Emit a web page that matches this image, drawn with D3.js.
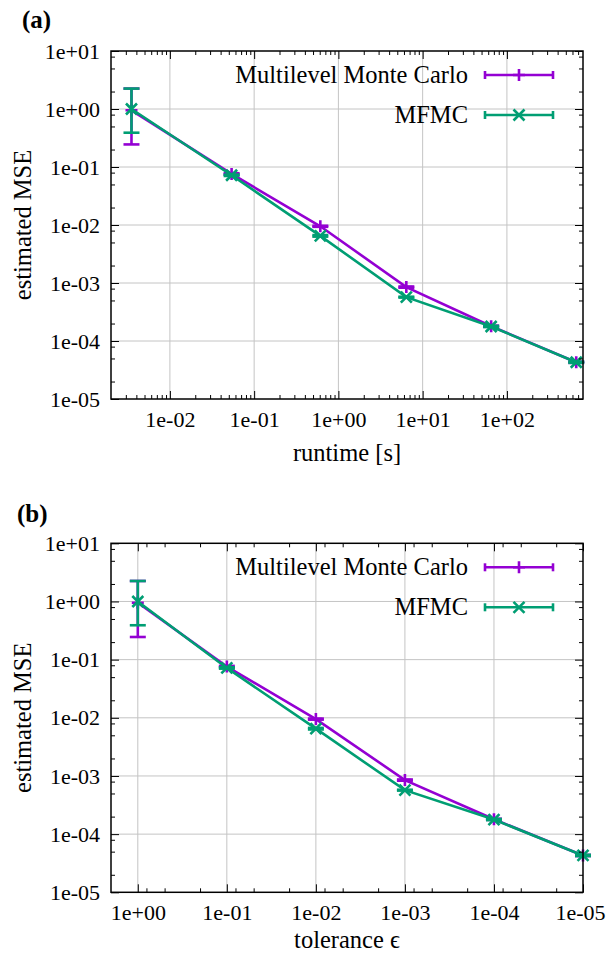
<!DOCTYPE html>
<html>
<head>
<meta charset="utf-8">
<script src="https://cdn.jsdelivr.net/npm/d3@7"></script>
<style>
  body { margin: 0; background: #fff; }
  svg { display: block; }
  svg text { font-family: "Liberation Serif", "Times New Roman", serif !important; fill: #000; }
</style>
</head>
<body>
<svg id="chart" width="608" height="962"></svg>
<script>
// values
const runtime = [0.0035, 0.054, 0.61, 6.4, 65, 665]
const tolerance = [1, 1e-1, 1e-2, 1e-3, 1e-4, 1e-5]

const mlmcMse = [0.95, 0.076, 0.0095, 0.00085, 0.00018, 4.3e-5]
const mlmcLo = [0.245, 0.074, 0.0093, 0.00083, 0.000176, 4.2e-5]
const mlmcHi = [2.25, 0.078, 0.0097, 0.00087, 0.000184, 4.4e-5]

const mfmcMse = [1.0, 0.072, 0.0065, 0.00057, 0.000178, 4.3e-5]
const mfmcLo = [0.39, 0.070, 0.0063, 0.00056, 0.000174, 4.2e-5]
const mfmcHi = [2.25, 0.074, 0.0067, 0.00058, 0.000182, 4.4e-5]

const yTicks = [1e1, 1e0, 1e-1, 1e-2, 1e-3, 1e-4, 1e-5]
const yTickLabels = ["1e+01", "1e+00", "1e-01", "1e-02", "1e-03", "1e-04", "1e-05"]
const xTicksA = [1e-2, 1e-1, 1e0, 1e1, 1e2]
const xTickLabelsA = ["1e-02", "1e-01", "1e+00", "1e+01", "1e+02"]
const xTicksB = [1e0, 1e-1, 1e-2, 1e-3, 1e-4, 1e-5]
const xTickLabelsB = ["1e+00", "1e-01", "1e-02", "1e-03", "1e-04", "1e-05"]

// minor tick multipliers per decade
const minorA = [2, 3, 4, 5, 6, 7, 8, 9]
const minorB = [2, 5, 8]

const seriesNames = ["Multilevel Monte Carlo", "MFMC"]
const colors = ["#9400d3", "#009e73"]

const svg = d3.select("#chart")
const left = 111, right = 583

function minorValues(domain, mult) {
    const lo = Math.min(domain[0], domain[1]), hi = Math.max(domain[0], domain[1])
    const out = []
    for (let e = -7; e <= 4; e++) {
        mult.forEach(m => {
            const v = m * Math.pow(10, e)
            if (v > lo * 1.0001 && v < hi * 0.9999) out.push(v)
        })
    }
    return out
}

function drawPanel(opt) {
    const top = opt.top, bottom = opt.bottom
    const x = d3.scaleLog().domain(opt.xDomain).range([left, right])
    const y = d3.scaleLog().domain([1e-5, 10]).range([bottom, top])
    const g = svg.append("g")

    // grid
    g.append("g").selectAll("line")
        .data(opt.xTicks.filter(v => x(v) > left + 1 && x(v) < right - 1))
        .enter().append("line")
        .attr("x1", d => x(d)).attr("x2", d => x(d))
        .attr("y1", top).attr("y2", bottom)
        .attr("stroke", "#c4c4c4").attr("stroke-width", 1)
    g.append("g").selectAll("line")
        .data(yTicks.filter(v => y(v) > top + 1 && y(v) < bottom - 1))
        .enter().append("line")
        .attr("x1", left).attr("x2", right)
        .attr("y1", d => y(d)).attr("y2", d => y(d))
        .attr("stroke", "#c4c4c4").attr("stroke-width", 1)

    // axes, ticks inward and mirrored
    const xMinor = minorValues(opt.xDomain, opt.minor)
    const yMinor = minorValues([1e-5, 10], minorB)

    const axes = [
        [d3.axisBottom(x).tickValues(opt.xTicks).tickSize(-8).tickPadding(12)
            .tickFormat((d, i) => opt.xLabels[i]), `translate(0,${bottom})`, "xlab"],
        [d3.axisBottom(x).tickValues(xMinor).tickSize(-4).tickFormat(""), `translate(0,${bottom})`],
        [d3.axisTop(x).tickValues(opt.xTicks).tickSize(-8).tickFormat(""), `translate(0,${top})`],
        [d3.axisTop(x).tickValues(xMinor).tickSize(-4).tickFormat(""), `translate(0,${top})`],
        [d3.axisLeft(y).tickValues(yTicks).tickSize(-8).tickPadding(11)
            .tickFormat((d, i) => yTickLabels[i]), `translate(${left},0)`],
        [d3.axisLeft(y).tickValues(yMinor).tickSize(-4).tickFormat(""), `translate(${left},0)`],
        [d3.axisRight(y).tickValues(yTicks).tickSize(-8).tickFormat(""), `translate(${right},0)`],
        [d3.axisRight(y).tickValues(yMinor).tickSize(-4).tickFormat(""), `translate(${right},0)`]
    ]

    // data: purple first, green on top
    const series = [
        {mse: mlmcMse, lo: mlmcLo, hi: mlmcHi, marker: "plus"},
        {mse: mfmcMse, lo: mfmcLo, hi: mfmcHi, marker: "cross"}
    ]
    const line = d3.line().x(d => x(d[0])).y(d => y(d[1]))
    const plus = "M-6,0H6M0,-6V6"
    const cross = "M-5.5,-5.5L5.5,5.5M-5.5,5.5L5.5,-5.5"

    series.forEach((s, k) => {
        const pts = opt.xs.map((v, i) => [v, s.mse[i], s.lo[i], s.hi[i]])
        const sg = g.append("g").attr("stroke", colors[k]).attr("fill", "none")
            .attr("stroke-width", 2.6)
        sg.append("path").datum(pts).attr("d", line)
        // error bars
        const eb = sg.selectAll("g").data(pts).enter().append("g")
        eb.append("line")
            .attr("x1", d => x(d[0])).attr("x2", d => x(d[0]))
            .attr("y1", d => y(d[2])).attr("y2", d => y(d[3]))
        eb.append("line")
            .attr("x1", d => x(d[0]) - 8).attr("x2", d => x(d[0]) + 8)
            .attr("y1", d => y(d[2])).attr("y2", d => y(d[2]))
        eb.append("line")
            .attr("x1", d => x(d[0]) - 8).attr("x2", d => x(d[0]) + 8)
            .attr("y1", d => y(d[3])).attr("y2", d => y(d[3]))
        sg.selectAll("path.m").data(pts).enter().append("path")
            .attr("class", "m")
            .attr("transform", d => `translate(${x(d[0])},${y(d[1])})`)
            .attr("d", s.marker === "plus" ? plus : cross)
    })

    axes.forEach(a => {
        const ag = g.append("g").attr("transform", a[1]).call(a[0])
        ag.select(".domain").remove()
        ag.selectAll("line").attr("stroke", "#000").attr("stroke-width", 1)
        ag.selectAll("text").style("font-size", "22px").attr("fill", "#000")
        // keep the label on the right edge inside the picture
        if (a[2] === "xlab" && opt.shiftLast) {
            ag.selectAll(".tick text").filter((d, i) => i === opt.xTicks.length - 1).attr("dx", -3)
        }
    })

    // frame
    g.append("rect")
        .attr("x", left).attr("y", top)
        .attr("width", right - left).attr("height", bottom - top)
        .attr("fill", "none").attr("stroke", "#000").attr("stroke-width", 1.5)

    // legend
    seriesNames.forEach((name, k) => {
        const ly = top + 24 + k * 40
        g.append("text")
            .attr("x", 468).attr("y", ly).attr("dy", "0.33em")
            .attr("text-anchor", "end").style("font-size", "24.5px")
            .text(name)
        const lg = g.append("g").attr("stroke", colors[k]).attr("stroke-width", 2.6)
            .attr("fill", "none")
        lg.append("line").attr("x1", 485).attr("x2", 553).attr("y1", ly).attr("y2", ly)
        lg.append("line").attr("x1", 485).attr("x2", 485).attr("y1", ly - 4).attr("y2", ly + 4)
        lg.append("line").attr("x1", 553).attr("x2", 553).attr("y1", ly - 4).attr("y2", ly + 4)
        lg.append("path").attr("transform", `translate(519,${ly})`)
            .attr("d", k === 0 ? plus : cross)
    })

    // labels
    g.append("text")
        .attr("transform", `translate(31,${(top + bottom) / 2}) rotate(-90)`)
        .attr("text-anchor", "middle").style("font-size", "24.5px")
        .text("estimated MSE")
    g.append("text")
        .attr("x", (left + right) / 2).attr("y", bottom + opt.xLabelOffset)
        .attr("text-anchor", "middle").style("font-size", "24.5px")
        .text(opt.xLabel)
    g.append("text")
        .attr("x", opt.titleX).attr("y", opt.titleY)
        .style("font-size", "25px").style("font-weight", "bold")
        .text(opt.title)
}

drawPanel({
    top: 51, bottom: 399, xDomain: [0.002, 800], xs: runtime,
    xTicks: xTicksA, xLabels: xTickLabelsA, minor: minorA, shiftLast: false,
    xLabel: "runtime [s]", xLabelOffset: 62, title: "(a)", titleX: 22, titleY: 28
})
drawPanel({
    top: 543.3, bottom: 892.3, xDomain: [2, 1e-5], xs: tolerance,
    xTicks: xTicksB, xLabels: xTickLabelsB, minor: minorB, shiftLast: true,
    xLabel: "tolerance ϵ", xLabelOffset: 56, title: "(b)", titleX: 17, titleY: 522
})
</script>
</body>
</html>
